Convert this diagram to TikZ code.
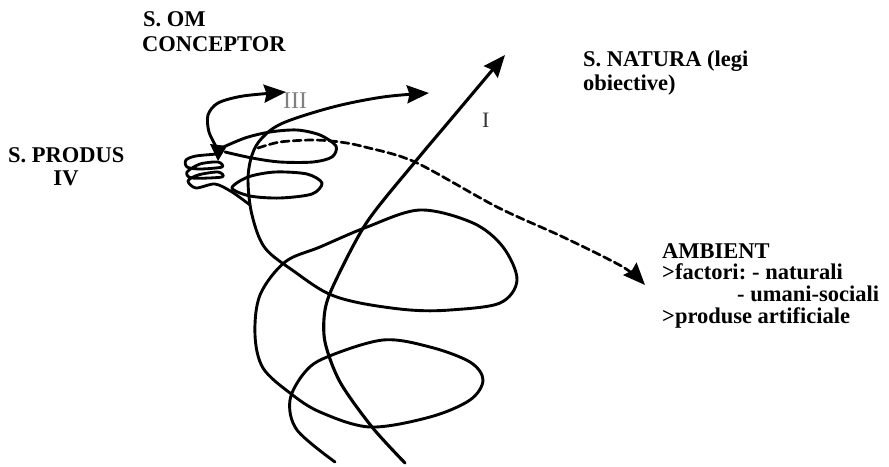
\documentclass[tikz,border=0pt]{standalone}
\usepackage{fontspec}
\setmainfont{Liberation Serif}
\usetikzlibrary{arrows.meta}
\begin{document}
\begin{tikzpicture}[x=1pt,y=-1pt,
  stroke/.style={line width=2.9pt, line cap=round, line join=round},
  tipped/.style={-{Stealth[length=22pt,width=18pt,inset=2.5pt]}},
  lbl/.style={font=\fontsize{22.5}{23}\selectfont\bfseries, inner sep=0pt, anchor=base west},
  roman/.style={inner sep=0pt, anchor=base west}]
\useasboundingbox (0,0) rectangle (889,466);

% labels
\node[lbl] (som1) at (143,26) {S. OM};
\node[lbl] (som2) at (142,51) {CONCEPTOR};
\node[lbl] (sprod) at (8,162) {S. PRODUS};
\node[lbl, anchor=base] (siv) at (66,185) {IV};
\node[lbl] (snat1) at (583,66) {S. NATURA (legi};
\node[lbl] (snat2) at (583,90) {obiective)};
\node[lbl] (amb1) at (662,258) {AMBIENT};
\node[lbl] (amb2) at (662,279) {>factori:\hskip6pt - naturali};
\node[lbl] (amb3) at (737,301) {- umani-sociali};
\node[lbl] (amb4) at (662,323) {>produse artificiale};
\node[roman, font=\fontsize{24}{24}\selectfont, text=black!50] (liii) at (283,108) {III};
\node[roman, font=\fontsize{22}{22}\selectfont, text=black!80] (li) at (482,127) {I};

% arrow I
\draw[stroke, line width=3.1pt, tipped] plot[smooth] coordinates
  {(405,463) (372,427) (340,382) (325,342) (325,310) (335,282) (367,222) (415,162) (452,118) (505,55)};

% big spiral
\draw[stroke, tipped] plot[smooth, tension=0.55] coordinates
  {(335,462) (297,430) (290,400) (305,372) (327,357) (383,340) (430,347) (470,362) (483,380)
   (470,400) (430,417) (370,427) (320,412) (290,393) (263,368) (255,335) (260,295) (285,262)
   (320,247) (367,227) (420,210) (473,223) (503,247) (517,280) (500,303) (450,310) (410,310)
   (360,303) (327,293) (295,272) (265,248) (252,215) (248,180) (252,155) (262,138) (283,123)
   (333,107) (383,97) (429,93)};

% upper ellipse
\draw[stroke] plot[smooth] coordinates
  {(219,149) (245,138) (270,132) (297,130) (320,135) (336,146) (332,157) (313,162) (280,162) (252,158) (225,152)};

% lower ellipse
\draw[stroke] plot[smooth cycle] coordinates
  {(232,188) (248,177) (275,172) (307,174) (322,183) (312,194) (280,198) (250,196)};

% small coil
\draw[stroke, line width=2.8pt] plot[smooth, tension=0.5] coordinates
  {(218,154) (196,156) (186,160) (187,167) (200,169) (222,167) (218,162) (200,164) (187,172)
   (192,178) (222,177) (218,172) (198,175) (188,181) (196,188) (215,184) (232,192) (250,205)};

% blob
\fill (210,144) -- (227,146) -- (218,161) -- cycle;

% arrow III
\draw[stroke, tipped] plot[smooth] coordinates
  {(218,150) (209,132) (208,115) (218,103) (243,96) (286,92)};

% dashed arrow to AMBIENT
\draw[stroke, line width=2.7pt, dash pattern=on 8pt off 4pt, tipped] plot[smooth] coordinates
  {(258,148) (280,142) (313,140) (340,142) (365,147) (415,162) (497,207) (563,237) (623,267) (645,285)};
\end{tikzpicture}
\end{document}
